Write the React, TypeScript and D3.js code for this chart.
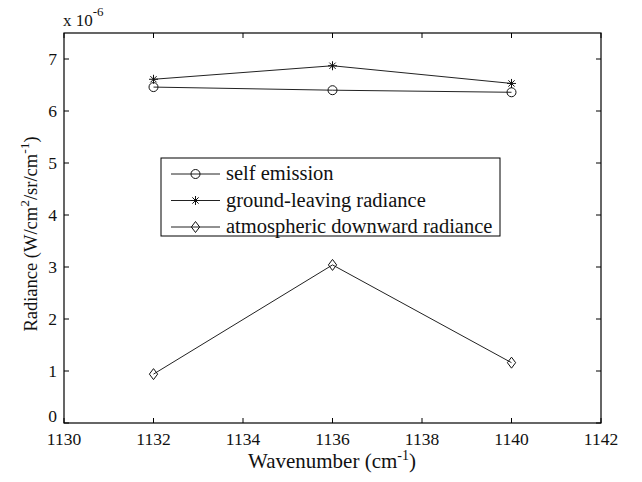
import React from "react";
import * as d3 from "d3";

const wavenumbers = [1132, 1136, 1140];
const selfEmission = [6.46, 6.40, 6.36];
const groundLeaving = [6.61, 6.87, 6.53];
const atmDownward = [0.94, 3.04, 1.16];
const xTicks = [1130, 1132, 1134, 1136, 1138, 1140, 1142];
const yTicks = [0, 1, 2, 3, 4, 5, 6, 7];
const seriesNames = ["self emission", "ground-leaving radiance", "atmospheric downward radiance"];

const W = 642, H = 482;
const L = 64, R = 601, T = 33, B = 423;
const ts = { fontFamily: "Liberation Serif" };

function Marker({ kind, x, y }: { kind: string; x: number; y: number }) {
  if (kind === "o") return <circle cx={x} cy={y} r={4.5} fill="none" stroke="#111" strokeWidth={1} />;
  if (kind === "*") {
    const s = 4.5;
    return (
      <g stroke="#111" strokeWidth={1}>
        <line x1={x - s} y1={y} x2={x + s} y2={y} />
        <line x1={x} y1={y - s} x2={x} y2={y + s} />
        <line x1={x - s * 0.7} y1={y - s * 0.7} x2={x + s * 0.7} y2={y + s * 0.7} />
        <line x1={x - s * 0.7} y1={y + s * 0.7} x2={x + s * 0.7} y2={y - s * 0.7} />
      </g>
    );
  }
  const s = 5.5;
  return <path d={`M${x},${y - s}L${x + s * 0.75},${y}L${x},${y + s}L${x - s * 0.75},${y}Z`} fill="none" stroke="#111" strokeWidth={1} />;
}

export default function App() {
  const x = d3.scaleLinear().domain([1130, 1142]).range([L, R]);
  const y = d3.scaleLinear().domain([0, 7.5]).range([B, T]);
  const line = d3.line<number>().x((_, i) => x(wavenumbers[i])).y((d) => y(d));
  const series = [
    { vals: selfEmission, m: "o" },
    { vals: groundLeaving, m: "*" },
    { vals: atmDownward, m: "d" },
  ];
  const tl = 5;
  const lx = 161, ly = 158, lw = 339, lh = 78;
  return (
    <svg width={W} height={H} style={{ position: "absolute", left: 0, top: 0, background: "#fff" }}>
      <rect x={0} y={0} width={W} height={H} fill="#fff" />
      {series.map((s, k) => (
        <g key={k}>
          <path d={line(s.vals) || ""} fill="none" stroke="#222" strokeWidth={1} />
          {s.vals.map((v, i) => <Marker key={i} kind={s.m} x={x(wavenumbers[i])} y={y(v)} />)}
        </g>
      ))}
      <rect x={L} y={T} width={R - L} height={B - T} fill="none" stroke="#000" strokeWidth={1.2} />
      {xTicks.map((t) => (
        <g key={t}>
          <line x1={x(t)} x2={x(t)} y1={B} y2={B - tl} stroke="#000" />
          <line x1={x(t)} x2={x(t)} y1={T} y2={T + tl} stroke="#000" />
          <text style={ts} x={x(t)} y={B + 22} textAnchor="middle" fontSize={17.5} fill="#111">{t}</text>
        </g>
      ))}
      {yTicks.map((t) => (
        <g key={t}>
          <line x1={L} x2={L + tl} y1={y(t)} y2={y(t)} stroke="#000" />
          <line x1={R} x2={R - tl} y1={y(t)} y2={y(t)} stroke="#000" />
          <text style={ts} x={L - 7} y={y(t) + (t === 0 ? -1 : 6)} textAnchor="end" fontSize={17.5} fill="#111">{t}</text>
        </g>
      ))}
      <text style={ts} x={63} y={26} fontSize={17} fill="#111">x 10<tspan dy={-10} fontSize={13}>-6</tspan></text>
      <text style={ts} x={332} y={468} textAnchor="middle" fontSize={21} fill="#111">
        Wavenumber (cm<tspan dy={-8} fontSize={14}>-1</tspan><tspan dy={8}>)</tspan>
      </text>
      <text style={ts} transform={`translate(37,234) rotate(-90)`} textAnchor="middle" fontSize={18.5} fill="#111">
        Radiance (W/cm<tspan dy={-8} fontSize={13.5}>2</tspan><tspan dy={8}>/sr/cm</tspan><tspan dy={-8} fontSize={13.5}>-1</tspan><tspan dy={8}>)</tspan>
      </text>
      <rect x={lx} y={ly} width={lw} height={lh} fill="#fff" stroke="#000" strokeWidth={1} />
      {seriesNames.map((n, i) => {
        const ry = ly + 16 + i * 26.5;
        return (
          <g key={n}>
            <line x1={171} x2={220} y1={ry} y2={ry} stroke="#222" />
            <Marker kind={series[i].m} x={195.5} y={ry} />
            <text style={ts} x={226} y={ry + 6} fontSize={20.5} fill="#111">{n}</text>
          </g>
        );
      })}
    </svg>
  );
}
